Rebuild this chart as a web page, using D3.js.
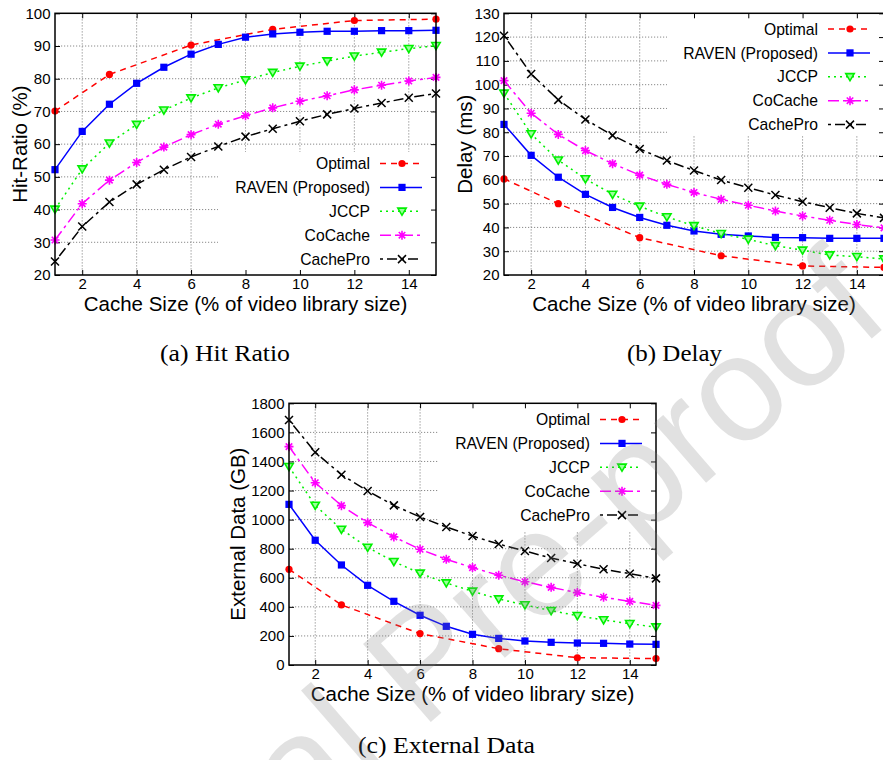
<!DOCTYPE html>
<html><head><meta charset="utf-8">
<script src="https://cdn.jsdelivr.net/npm/d3@7"></script>
<style>
html,body{margin:0;padding:0;background:#fff;}
svg{display:block;}
</style></head>
<body>
<svg id="chart" width="883" height="760"></svg>
<script>
// ---------- DATA ----------
const cacheSizes = [1,2,3,4,5,6,7,8,9,10,11,12,13,14,15];
const optimalSizes = [1,3,6,9,12,15];
const xTicks = [2,4,6,8,10,12,14];
const seriesNames = ["Optimal","RAVEN (Proposed)","JCCP","CoCache","CachePro"];

const hitOptimal   = [70.1, 81.3, 90.3, 95.1, 97.8, 98.2];
const hitRaven     = [52.2,63.9,72.2,78.6,83.5,87.5,90.5,92.7,93.7,94.2,94.5,94.5,94.7,94.7,94.8];
const hitJccp      = [40.1,52.4,60.3,66.0,70.4,74.1,77.2,79.6,81.9,83.8,85.4,86.9,88.1,89.2,90.1];
const hitCoCache   = [30.7,41.8,49.0,54.4,59.1,62.9,66.1,68.7,71.1,73.1,74.8,76.6,78.0,79.3,80.4];
const hitCachePro  = [24.1,34.8,42.3,47.7,52.2,56.1,59.3,62.3,64.7,67.0,69.1,70.9,72.6,74.2,75.5];
const hitTicks     = [20,30,40,50,60,70,80,90,100];

const delayOptimal  = [60.4,50.0,35.7,28.1,23.8,23.2];
const delayRaven    = [83.3,70.3,61.1,53.9,48.4,44.2,40.9,38.5,37.1,36.4,35.8,35.7,35.4,35.4,35.4];
const delayJccp     = [96.4,79.3,68.3,60.4,53.9,48.9,44.4,40.7,37.4,35.0,32.3,30.4,28.4,27.7,26.7];
const delayCoCache  = [101.7,88.0,79.1,72.3,66.8,62.0,58.1,54.7,51.8,49.3,46.9,44.8,43.0,41.2,39.8];
const delayCachePro = [120.6,104.5,93.6,85.4,78.7,73.0,68.1,63.9,59.9,56.7,53.6,50.8,48.3,45.9,44.0];
const delayTicks    = [20,30,40,50,60,70,80,90,100,110,120,130];

const extOptimal  = [658,413,216,112,50,44];
const extRaven    = [1105,858,688,548,438,342,266,211,183,165,156,151,149,144,142];
const extJccp     = [1364,1098,933,809,711,631,564,507,454,413,374,339,310,284,261];
const extCoCache  = [1502,1254,1096,979,881,796,727,670,617,573,534,498,466,438,410];
const extCachePro = [1685,1463,1309,1197,1098,1018,949,887,832,784,736,697,658,628,596];
const extTicks    = [0,200,400,600,800,1000,1200,1400,1600,1800];

// ---------- STYLES ----------
const styles = [
  {color:"#ff0000", dash:"6,5", marker:"circle"},
  {color:"#0000ff", dash:null, marker:"square"},
  {color:"#00f000", dash:"2,4", marker:"triangle"},
  {color:"#ff00ff", dash:"11,4,3,4", marker:"star"},
  {color:"#000000", dash:"3,4,10,4", marker:"cross"}
];

const svg = d3.select("#chart");
const SANS = "'Liberation Sans', Arial, Helvetica, sans-serif";

function drawMarker(g, type, x, y, color){
  if(type==="circle"){
    g.append("circle").attr("cx",x).attr("cy",y).attr("r",3.6).attr("fill",color);
  } else if(type==="square"){
    g.append("rect").attr("x",x-3.6).attr("y",y-3.6).attr("width",7.2).attr("height",7.2).attr("fill",color);
  } else if(type==="triangle"){
    const s=4.2;
    g.append("path").attr("d",`M${x-s},${y-s*0.75}L${x+s},${y-s*0.75}L${x},${y+s*0.95}Z`)
      .attr("fill","#9cff9c").attr("stroke",color).attr("stroke-width",1.6);
  } else if(type==="star"){
    const s=4.5, d=s*0.72;
    g.append("path").attr("d",`M${x-s},${y}L${x+s},${y}M${x},${y-s}L${x},${y+s}M${x-d},${y-d}L${x+d},${y+d}M${x-d},${y+d}L${x+d},${y-d}`)
      .attr("stroke",color).attr("stroke-width",1.6);
  } else if(type==="cross"){
    const s=4;
    g.append("path").attr("d",`M${x-s},${y-s}L${x+s},${y+s}M${x-s},${y+s}L${x+s},${y-s}`)
      .attr("stroke",color).attr("stroke-width",1.5);
  }
}

function drawPanel(cfg){
  const {left,right,top,bottom,yDomain,yTicks,series,yTitle,yTitleX,keyBox,keyRight,keyTop,caption,captionX,captionY,xTitleY} = cfg;
  const x = d3.scaleLinear().domain([1,15]).range([left,right]);
  const y = d3.scaleLinear().domain(yDomain).range([bottom,top]);
  const g = svg.append("g");

  // grid
  const grid = g.append("g").attr("stroke","#8a8a8a").attr("stroke-width",1).attr("stroke-dasharray","1.2,1.8");
  xTicks.forEach(t=>grid.append("line").attr("x1",x(t)).attr("x2",x(t)).attr("y1",top).attr("y2",bottom));
  yTicks.forEach(t=>{ if(t!==yDomain[0] && t!==yDomain[1]) grid.append("line").attr("x1",left).attr("x2",right).attr("y1",y(t)).attr("y2",y(t)); });

  // key box (hides grid)
  g.append("rect").attr("x",keyBox[0]).attr("y",keyBox[1]).attr("width",keyBox[2]-keyBox[0]).attr("height",keyBox[3]-keyBox[1]).attr("fill","#fff");

  // axes via d3
  const xAxis = d3.axisBottom(x).tickValues(xTicks).tickSize(-5).tickPadding(3.5).tickFormat(d3.format("d"));
  const xAxisTop = d3.axisTop(x).tickValues(xTicks).tickSize(-5).tickFormat("");
  const yAxis = d3.axisLeft(y).tickValues(yTicks).tickSize(-5).tickPadding(4.5).tickFormat(d3.format("d"));
  const yAxisR = d3.axisRight(y).tickValues(yTicks).tickSize(-5).tickFormat("");
  const ax = [
    g.append("g").attr("transform",`translate(0,${bottom})`).call(xAxis),
    g.append("g").attr("transform",`translate(0,${top})`).call(xAxisTop),
    g.append("g").attr("transform",`translate(${left},0)`).call(yAxis),
    g.append("g").attr("transform",`translate(${right},0)`).call(yAxisR)
  ];
  ax.forEach(a=>{
    a.select(".domain").remove();
    a.selectAll(".tick line").attr("stroke","#000").attr("stroke-width",1);
    a.selectAll(".tick text").attr("font-family",SANS).attr("font-size",15).attr("fill","#000");
  });

  // lines
  series.forEach((s,i)=>{
    const st = styles[i];
    const pts = s.xs.map((xv,j)=>[xv,s.ys[j]]);
    const line = d3.line().x(d=>x(d[0])).y(d=>y(d[1]));
    const p = g.append("path").attr("d",line(pts)).attr("fill","none").attr("stroke",st.color).attr("stroke-width",1.5);
    if(st.dash) p.attr("stroke-dasharray",st.dash);
  });
  series.forEach((s,i)=>{
    const st = styles[i];
    s.xs.forEach((xv,j)=>drawMarker(g, st.marker, x(xv), y(s.ys[j]), st.color));
  });

  // legend
  seriesNames.forEach((name,i)=>{
    const st = styles[i];
    const cy = keyTop + i*23.9;
    g.append("text").attr("x",keyRight-66).attr("y",cy).attr("dy","0.36em").attr("text-anchor","end")
      .attr("font-family",SANS).attr("font-size",15.7).attr("fill","#000").text(name);
    const l = g.append("line").attr("x1",keyRight-56).attr("x2",keyRight-14).attr("y1",cy).attr("y2",cy)
      .attr("stroke",st.color).attr("stroke-width",1.5);
    if(st.dash) l.attr("stroke-dasharray",st.dash);
    drawMarker(g, st.marker, keyRight-34, cy, st.color);
  });

  // border
  g.append("rect").attr("x",left).attr("y",top).attr("width",right-left).attr("height",bottom-top)
    .attr("fill","none").attr("stroke","#000").attr("stroke-width",1.5);

  // titles
  g.append("text").attr("x",(left+right)/2).attr("y",xTitleY).attr("text-anchor","middle")
    .attr("font-family",SANS).attr("font-size",20.5).attr("fill","#000").text("Cache Size (% of video library size)");
  g.append("text").attr("transform",`translate(${yTitleX},${(top+bottom)/2}) rotate(-90)`).attr("text-anchor","middle")
    .attr("font-family",SANS).attr("font-size",20.5).attr("fill","#000").text(yTitle);
  g.append("text").attr("x",captionX).attr("y",captionY).attr("text-anchor","middle")
    .attr("font-family","'Liberation Serif','Times New Roman',serif").attr("font-size",22.5).attr("fill","#000")
    .attr("textLength",cfg.captionLen).attr("lengthAdjust","spacingAndGlyphs").text(caption);
}

function mk(opt,rav,jc,co,cp){
  return [
    {xs:optimalSizes, ys:opt},
    {xs:cacheSizes, ys:rav},
    {xs:cacheSizes, ys:jc},
    {xs:cacheSizes, ys:co},
    {xs:cacheSizes, ys:cp}
  ];
}

drawPanel({left:55,right:436,top:13.3,bottom:275,yDomain:[20,100],yTicks:hitTicks,
  series:mk(hitOptimal,hitRaven,hitJccp,hitCoCache,hitCachePro),
  yTitle:"Hit-Ratio (%)",yTitleX:27,keyBox:[218,152,436,275],keyRight:436,keyTop:163.5,
  caption:"(a) Hit Ratio",captionX:225,captionY:361,captionLen:130,xTitleY:311});

drawPanel({left:504,right:884,top:13.3,bottom:275,yDomain:[20,130],yTicks:delayTicks,
  series:mk(delayOptimal,delayRaven,delayJccp,delayCoCache,delayCachePro),
  yTitle:"Delay (ms)",yTitleX:472,keyBox:[667,13.3,884,135],keyRight:884,keyTop:29,
  caption:"(b) Delay",captionX:674.5,captionY:361,captionLen:95,xTitleY:311});

drawPanel({left:289,right:656,top:403.3,bottom:665,yDomain:[0,1800],yTicks:extTicks,
  series:mk(extOptimal,extRaven,extJccp,extCoCache,extCachePro),
  yTitle:"External Data (GB)",yTitleX:245,keyBox:[438,403.3,656,532],keyRight:656,keyTop:419.5,
  caption:"(c) External Data",captionX:446.5,captionY:753,captionLen:177,xTitleY:701});

// watermark (on top, translucent)
svg.append("text").attr("transform","translate(456,700) rotate(-41)").attr("text-anchor","middle")
  .attr("font-family",SANS).attr("font-size",150).attr("fill","#808080").attr("fill-opacity",0.24)
  .text("Journal Pre-proof");
</script>
</body></html>
